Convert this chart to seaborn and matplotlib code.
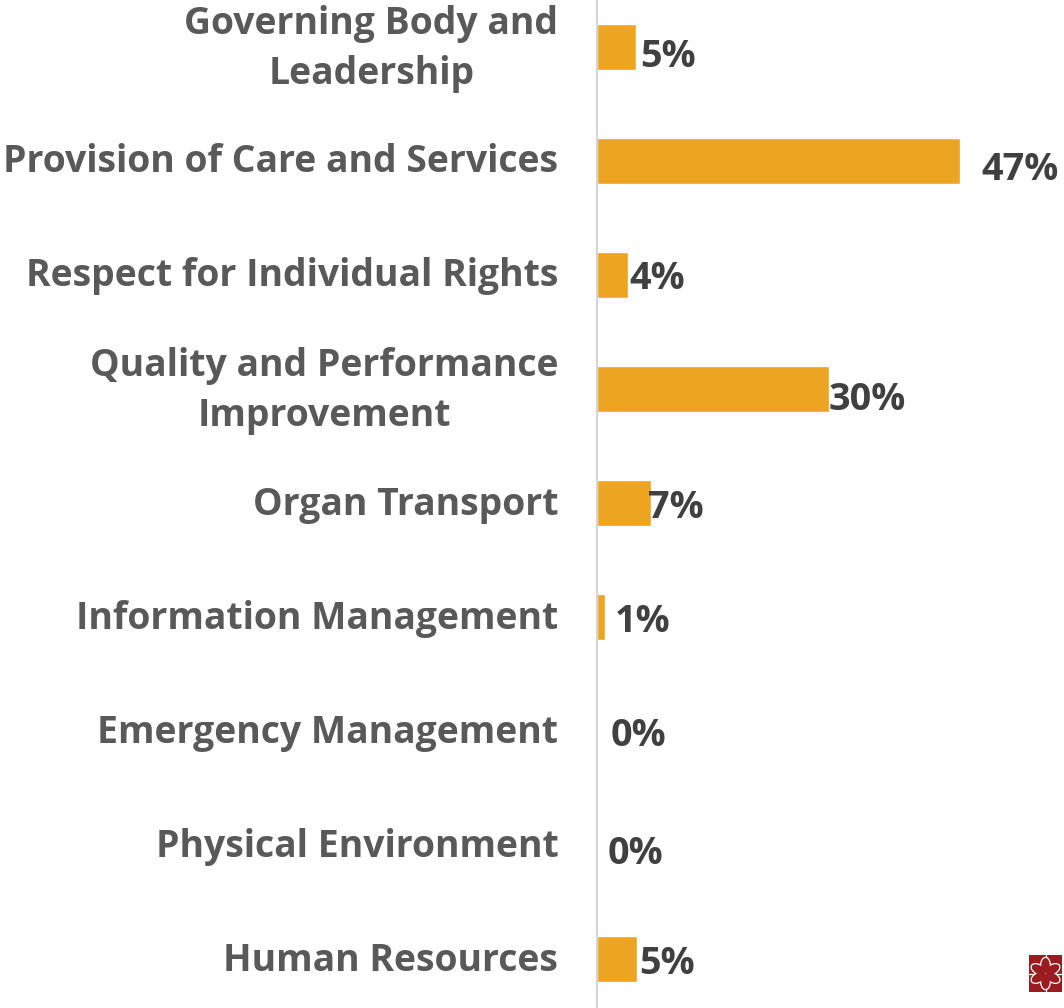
import matplotlib
matplotlib.use("Agg")
import matplotlib.pyplot as plt
from matplotlib.patches import Rectangle, Ellipse
from matplotlib.transforms import ScaledTranslation
import math
import seaborn as sns
import pandas as pd

categories = ["Governing Body and\nLeadership", "Provision of Care and Services",
              "Respect for Individual Rights", "Quality and Performance\nImprovement",
              "Organ Transport", "Information Management", "Emergency Management",
              "Physical Environment", "Human Resources"]
values = [5.0, 47.0, 4.0, 30.0, 7.0, 1.0, 0.0, 0.0, 5.2]

# layout: value label offsets from the bar end (px, +right / +down)
label_dx = [5, 22, 1, 0, -3, 10, 14, 11, 2]
label_dy = [10, 9, 4, 11, 5, 5, 5, 9, 5]
# layout: category label lift (px)
tick_lift = [8.5, 3.5, 3, 8.5, 2, 2, 2, 2, 2]

W, H = 1064, 1008
sns.set_theme(style="white")
plt.rcParams["font.family"] = ["Open Sans", "DejaVu Sans"]
df = pd.DataFrame({"category": categories, "value": values})

fig = plt.figure(figsize=(W / 100, H / 100), dpi=100)
x0 = 597.0
ax = fig.add_axes([x0 / W, 0, 1 - x0 / W, 1])
sns.barplot(data=df, y="category", x="value", orient="h", color="#EDA521",
            saturation=1, width=0.405, ax=ax)
ax.set_xlim(0, (W - x0) / 7.72)
ax.set_ylim((H - 46.7) / 114, -46.7 / 114)
ax.set_xlabel("")
ax.set_ylabel("")
ax.set_xticks([])
ax.tick_params(axis="y", length=0, pad=27.9)
for t, lift in zip(ax.get_yticklabels(), tick_lift):
    t.set_fontsize(26.95)
    t.set_fontweight("bold")
    t.set_color("#595959")
    t.set_multialignment("center")
    t.set_linespacing(1.41)
    t.set_transform(t.get_transform() + ScaledTranslation(0, lift / 100, fig.dpi_scale_trans))
for s in ["top", "right", "bottom"]:
    ax.spines[s].set_visible(False)
ax.spines["left"].set_color("#D4D4D4")
ax.spines["left"].set_linewidth(1.5)

for i, v in enumerate(values):
    ax.annotate(f"{v:.0f}%", xy=(v, i), xytext=(label_dx[i] * 0.72, -label_dy[i] * 0.72),
                textcoords="offset points", va="center", ha="left",
                fontsize=27.3, fontweight="bold", color="#404040", annotation_clip=False)

# small logo, bottom right
logo = fig.add_axes([1029 / W, (H - 992) / H, 33 / W, 37 / H])
logo.set_xlim(0, 33)
logo.set_ylim(0, 37)
logo.axis("off")
red = "#9B1C20"
logo.add_patch(Rectangle((0, 0), 33, 37, color=red, lw=0))
logo.plot([16.5, 16.5], [0, 37], color="white", lw=0.9, zorder=1)
logo.plot([0, 33], [18.5, 18.5], color="white", lw=0.9, zorder=1)
for lw, edge in [(1.8, "white"), (0, red)]:
    for k in range(6):
        a = math.radians(60 * k)
        logo.add_patch(Ellipse((16.5 + 8 * math.sin(a), 18.5 + 8 * math.cos(a)), 8.5, 15,
                               angle=-60 * k, facecolor=red, edgecolor=edge, lw=lw, zorder=2))

fig.savefig("out.png", dpi=100)
